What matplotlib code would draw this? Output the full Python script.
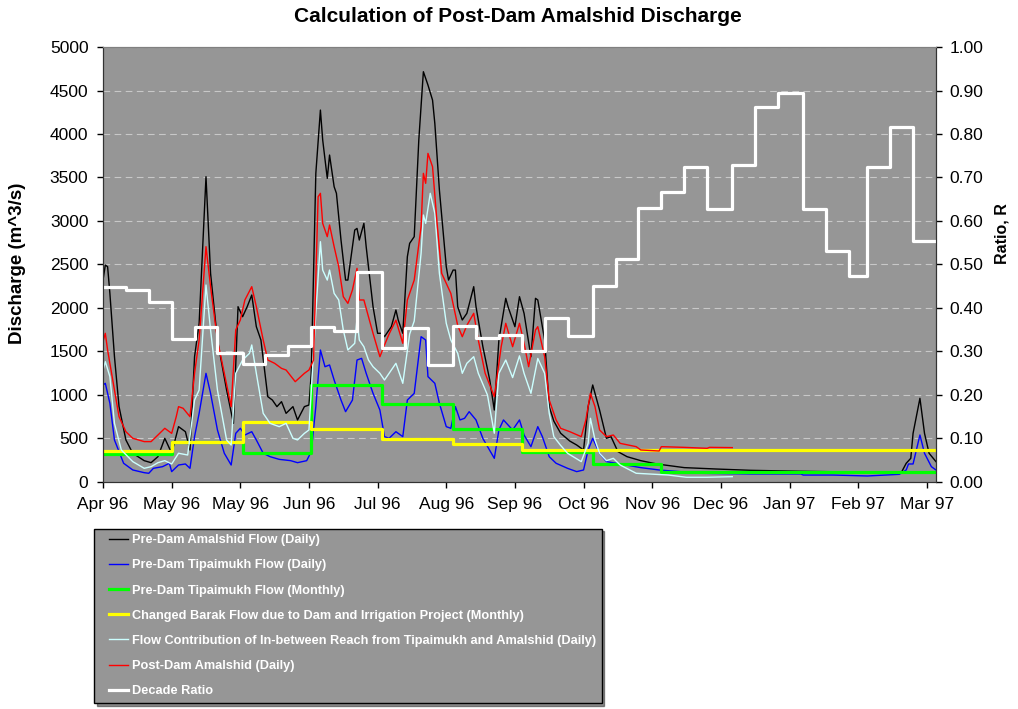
import numpy as np
import pandas as pd
import matplotlib
matplotlib.use("Agg")
import matplotlib.pyplot as plt
import matplotlib.dates as mdates
from matplotlib.lines import Line2D
from matplotlib.legend_handler import HandlerLine2D
from matplotlib.ticker import MultipleLocator, FormatStrFormatter

plt.rcParams['font.family'] = ['Liberation Sans', 'DejaVu Sans']

# day offsets counted from 1 Apr 1996 (m^3/s)
pre_amal_day = [0, 1, 2, 3, 5, 7, 10, 13, 18, 21, 24, 27, 30, 33, 36, 38, 40, 42, 45, 47,
                50, 54, 57, 59, 61, 63, 65, 67, 69, 72, 74, 76, 78, 80, 83, 85, 88, 90, 91, 93,
                95, 96, 98, 99, 101, 102, 104, 106, 107, 110, 111, 112, 114, 115, 118, 120, 122, 123, 126, 128,
                129, 131, 133, 134, 136, 138, 140, 142, 144, 145, 147, 150, 151, 153, 154, 155, 157, 159, 162, 163,
                166, 169, 171, 173, 176, 177, 180, 182, 184, 187, 189, 190, 193, 195, 197, 200, 204, 207, 210, 212,
                214, 217, 220, 222, 225, 229, 235, 242, 254, 268, 283, 305, 327, 349, 351, 353, 354, 357, 359, 361,
                364]
pre_amal_q = [2321, 2494, 2475, 2168, 1440, 866, 483, 330, 245, 222, 291, 502, 330, 636, 578, 368, 1440, 1824, 3509, 2398,
              1632, 1057, 674, 2015, 1900, 2015, 2149, 1785, 1632, 981, 942, 866, 923, 789, 866, 713, 866, 885, 1249, 3548,
              4275, 3931, 3490, 3758, 3394, 3318, 2781, 2321, 2321, 2896, 2915, 2781, 2973, 2705, 2015, 1709, 1709, 1670, 1785, 1977,
              1862, 1709, 2590, 2743, 2820, 3931, 4716, 4563, 4390, 4122, 3356, 2475, 2321, 2436, 2436, 2015, 1862, 1938, 2245, 2015,
              1555, 1172, 827, 1632, 2111, 2015, 1785, 2130, 1938, 1440, 2111, 2092, 1632, 866, 700, 560, 470, 425, 368, 866,
              1115, 827, 502, 521, 349, 291, 245, 207, 165, 149, 134, 123, 115, 115, 215, 272, 559, 962, 559, 330,
              234]

tip_day = [0, 1, 3, 5, 9, 13, 18, 20, 22, 26, 29, 30, 33, 36, 38, 40, 42, 45, 47, 50,
           53, 56, 58, 60, 62, 65, 67, 70, 73, 77, 82, 85, 89, 91, 93, 95, 97, 99, 101, 104,
           106, 109, 111, 113, 115, 118, 121, 123, 125, 128, 131, 133, 136, 139, 141, 142, 145, 147, 150, 152,
           154, 156, 158, 160, 163, 166, 171, 173, 175, 179, 182, 184, 187, 190, 192, 195, 198, 203, 207, 210,
           212, 214, 217, 220, 226, 235, 243, 261, 283, 305, 306, 319, 334, 348, 351, 352, 354, 357, 359, 362,
           364]
tip_q = [1115, 1134, 904, 483, 215, 138, 107, 100, 157, 176, 215, 119, 195, 207, 157, 521, 789, 1249, 1019, 598,
         330, 195, 559, 617, 540, 578, 483, 330, 291, 260, 245, 222, 245, 349, 866, 1517, 1325, 1345, 1172, 942,
         808, 942, 1402, 1421, 1249, 1019, 827, 521, 502, 578, 521, 942, 1019, 1670, 1632, 1211, 1134, 904, 636, 617,
         866, 713, 732, 808, 713, 500, 272, 598, 713, 598, 713, 540, 406, 636, 521, 291, 215, 157, 119, 138,
         368, 502, 330, 234, 207, 165, 138, 100, 92, 92, 80, 80, 69, 88, 138, 207, 207, 540, 330, 176,
         138]

reach_day = [0, 1, 3, 5, 8, 13, 18, 21, 24, 27, 30, 33, 37, 40, 42, 45, 47, 50, 54, 56,
             58, 61, 64, 65, 67, 70, 73, 77, 80, 83, 85, 88, 90, 93, 95, 96, 98, 99, 101, 103,
             105, 107, 110, 111, 112, 114, 116, 118, 121, 123, 126, 128, 131, 134, 136, 139, 140, 141, 143, 145,
             147, 150, 152, 155, 157, 159, 162, 164, 168, 171, 173, 176, 179, 182, 184, 187, 190, 193, 195, 197,
             200, 203, 209, 212, 213, 215, 217, 220, 223, 226, 233, 247, 255, 264, 275]
reach_q = [1287, 1383, 1211, 674, 368, 234, 157, 176, 222, 245, 207, 330, 310, 942, 1057, 2264, 1747, 1057, 483, 425,
           1249, 1402, 1479, 1575, 1249, 789, 674, 636, 674, 502, 483, 559, 598, 1938, 2762, 2436, 2321, 2436, 2168, 2092,
           1747, 1517, 1594, 1881, 1632, 1555, 1402, 1325, 1249, 1172, 1287, 1364, 1134, 1700, 1850, 2628, 3069, 2973, 3318, 3088,
           2398, 1824, 1632, 1479, 1249, 1364, 1440, 1249, 1000, 560, 1249, 1402, 1200, 1450, 1249, 1019, 1420, 1249, 789, 521,
           420, 330, 234, 444, 732, 483, 330, 245, 272, 195, 100, 80, 54, 54, 61]

post_amal_day = [0, 1, 2, 5, 7, 10, 13, 18, 21, 24, 27, 30, 32, 33, 35, 38, 40, 42, 45, 47,
                 50, 53, 56, 58, 60, 62, 65, 67, 70, 72, 75, 78, 80, 84, 88, 90, 92, 94, 95, 96,
                 98, 99, 101, 103, 105, 107, 109, 111, 112, 114, 116, 118, 121, 123, 125, 128, 131, 133, 136, 139,
                 140, 141, 142, 144, 146, 148, 150, 152, 155, 157, 159, 162, 164, 167, 171, 174, 176, 179, 182, 184,
                 186, 189, 190, 193, 195, 198, 200, 204, 209, 211, 213, 215, 217, 220, 223, 226, 233, 235, 243, 244,
                 254, 264, 265, 275]
post_amal_q = [1613, 1709, 1517, 1057, 751, 578, 502, 464, 464, 540, 617, 559, 751, 866, 847, 751, 1249, 1632, 2705, 2245,
               1632, 1249, 866, 1747, 1862, 2092, 2245, 2015, 1632, 1402, 1364, 1306, 1287, 1153, 1249, 1287, 1402, 3279, 3318, 2973,
               2820, 2954, 2705, 2475, 2130, 2053, 2207, 2456, 2092, 2092, 1900, 1709, 1440, 1575, 1700, 1860, 1594, 2092, 2321, 2935,
               3548, 3433, 3777, 3624, 2973, 2398, 2283, 2168, 1800, 1670, 1800, 1939, 1632, 1249, 981, 1555, 1824, 1555, 1824, 1594,
               1325, 1747, 1785, 1440, 942, 713, 617, 578, 521, 713, 1019, 866, 598, 521, 540, 444, 406, 368, 356, 406,
               398, 387, 398, 395]

# monthly steps (Apr 96 .. Mar 97)
tip_monthly = [318, 455, 335, 1115, 896, 609, 341, 207, 119, 119, 119, 119]
barak_monthly = [360, 460, 690, 605, 494, 433, 365, 365, 365, 365, 365, 365]

# decade ratio, three decades per month (Apr 96 .. Mar 97)
decade_ratio = [0.449, 0.441, 0.413, 0.328, 0.356, 0.296, 0.271, 0.291, 0.313,
                0.356, 0.347, 0.482, 0.309, 0.353, 0.269, 0.359, 0.332, 0.338,
                0.300, 0.376, 0.336, 0.451, 0.513, 0.631, 0.667, 0.723, 0.627,
                0.729, 0.861, 0.895, 0.627, 0.532, 0.474, 0.723, 0.815, 0.555]

labels = ["Pre-Dam Amalshid Flow (Daily)",
          "Pre-Dam Tipaimukh Flow (Daily)",
          "Pre-Dam Tipaimukh Flow (Monthly)",
          "Changed Barak Flow due to Dam and Irrigation Project (Monthly)",
          "Flow Contribution of In-between Reach from Tipaimukh and Amalshid (Daily)",
          "Post-Dam Amalshid (Daily)",
          "Decade Ratio"]

start = np.datetime64('1996-04-01')


def to_dates(days):
    return start + np.array(days, dtype='timedelta64[D]')


months = pd.date_range('1996-04-01', periods=13, freq='MS')
decades = []
for m in months[:-1]:
    decades += [m, m + pd.Timedelta(days=10), m + pd.Timedelta(days=20)]
decades.append(months[-1])

fig = plt.figure(figsize=(10.18, 7.09), dpi=100)
ax = fig.add_axes([0.1012, 0.3202, 0.8182, 0.6135])
ax.set_facecolor('#969696')

l1, = ax.plot(to_dates(pre_amal_day), pre_amal_q, color='black', lw=1.0)
l2, = ax.plot(to_dates(tip_day), tip_q, color='#0000ff', lw=1.0)
l3, = ax.plot(months, tip_monthly + [tip_monthly[-1]], color='#00ff00', lw=2.3, drawstyle='steps-post')
l4, = ax.plot(months, barak_monthly + [barak_monthly[-1]], color='#ffff00', lw=2.3, drawstyle='steps-post')
l5, = ax.plot(to_dates(reach_day), reach_q, color='#ccffff', lw=1.0)
l6, = ax.plot(to_dates(post_amal_day), post_amal_q, color='#ff0000', lw=1.0)

ax.set_ylim(0, 5000)
ax.yaxis.set_major_locator(MultipleLocator(500))
ax.yaxis.grid(True, linestyle=(0, (6, 4)), color='#c8c8c8', lw=0.8)
ax.set_axisbelow(True)
ax.set_xlim(start, start + np.timedelta64(364, 'D'))
ax.set_xticks(to_dates(range(0, 361, 30)))
ax.xaxis.set_major_formatter(mdates.DateFormatter('%b %y'))

ax2 = ax.twinx()
l7, = ax2.plot(decades, decade_ratio + [decade_ratio[-1]], color='white', lw=2.3, drawstyle='steps-post')
ax2.set_ylim(0, 1)
ax2.yaxis.set_major_locator(MultipleLocator(0.1))
ax2.yaxis.set_major_formatter(FormatStrFormatter('%.2f'))

for a in (ax, ax2):
    a.tick_params(direction='out', length=4, width=1, labelsize=12.5, colors='black')
    for s in a.spines.values():
        s.set_color('#333333')
    a.spines['top'].set_color('#808080')
ax.tick_params(axis='y', pad=6.5)
ax.tick_params(axis='x', pad=7)
ax2.tick_params(axis='y', pad=6)

ax.set_ylabel('Discharge (m^3/s)', fontsize=13.5, fontweight='bold')
ax.yaxis.set_label_coords(-0.0924, 0.503)
ax2.set_ylabel('Ratio, R', fontsize=11.5, fontweight='bold')
ax2.yaxis.set_label_coords(1.0708, 0.571)

fig.text(0.5084, 0.977, 'Calculation of Post-Dam Amalshid Discharge',
         ha='center', va='center', fontsize=15, fontweight='bold')

leg = fig.legend([l1, l2, l3, l4, l5, l6, l7], labels, loc='lower left',
                 bbox_to_anchor=(0.0923, 0.0085), borderaxespad=0,
                 prop=dict(weight='bold', size=9.2),
                 labelcolor='white', facecolor='#969696', edgecolor='black', framealpha=1,
                 fancybox=False, shadow={'color': '#202020'}, handlelength=2.25,
                 handletextpad=0.25, labelspacing=1.03, borderpad=0.45,
                 handler_map={Line2D: HandlerLine2D(xpad=0.75)})
leg.get_frame().set_linewidth(1.0)

fig.savefig('out.png', dpi=100)
